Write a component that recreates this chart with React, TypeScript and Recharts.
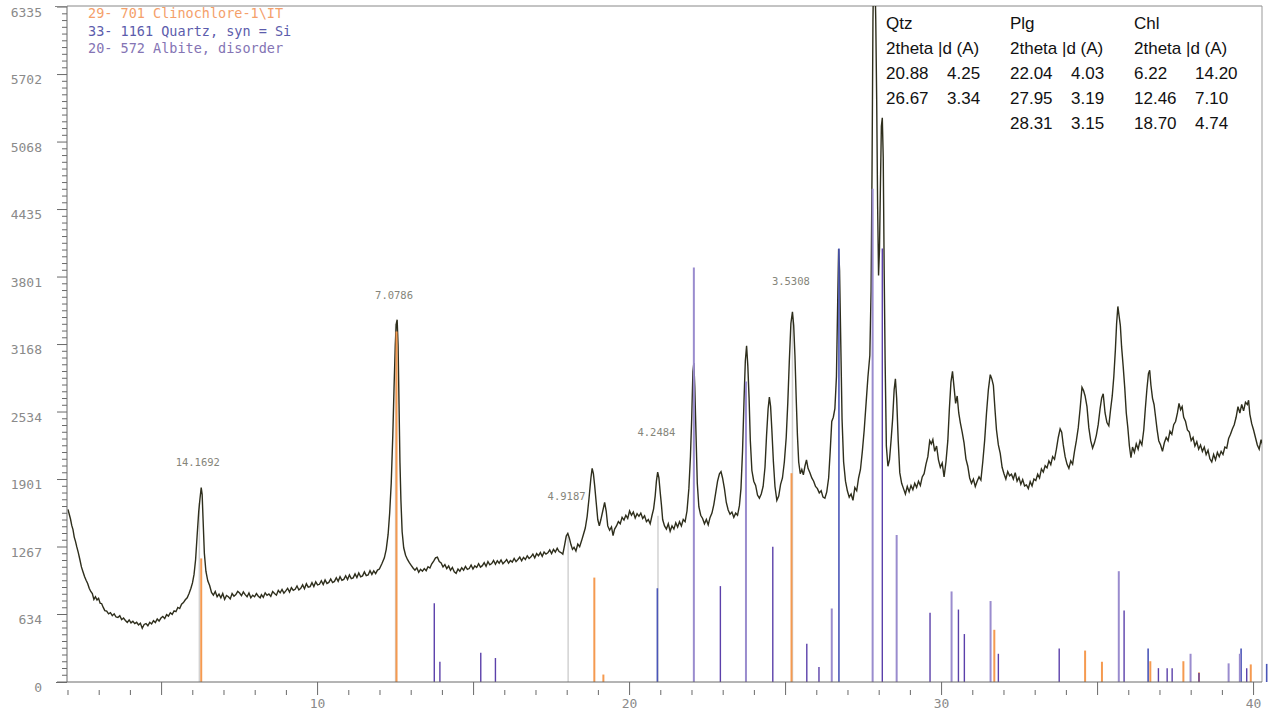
import { ComposedChart, Line, XAxis, YAxis, ReferenceLine, Scatter } from "recharts"

// measured pattern, [2theta, counts], split by range
const scanA: [number, number][] = [
  [2.0, 1620], [2.04, 1575], [2.08, 1530], [2.12, 1470], [2.16, 1430], [2.2, 1360], [2.24, 1320], [2.28, 1270],
  [2.33, 1215], [2.38, 1150], [2.43, 1080], [2.48, 1035], [2.53, 990], [2.58, 955], [2.63, 925], [2.68, 880],
  [2.73, 850], [2.78, 830], [2.83, 775], [2.88, 800], [2.93, 770], [2.98, 785], [3.03, 740], [3.08, 735],
  [3.13, 700], [3.18, 670], [3.24, 665], [3.3, 640], [3.36, 650], [3.42, 622], [3.48, 640], [3.54, 610],
  [3.6, 605], [3.66, 622], [3.72, 585], [3.78, 600], [3.84, 578], [3.9, 560], [3.96, 582], [4.02, 555],
  [4.08, 570], [4.14, 548], [4.2, 560], [4.26, 535], [4.32, 552], [4.38, 505], [4.44, 540], [4.5, 548],
  [4.56, 528], [4.62, 560], [4.68, 545], [4.74, 575], [4.8, 558], [4.86, 592], [4.92, 572], [4.98, 600],
  [5.04, 615], [5.1, 595], [5.16, 632], [5.22, 618], [5.28, 650], [5.34, 635], [5.4, 668], [5.46, 660],
  [5.52, 700], [5.58, 690], [5.64, 730], [5.7, 745], [5.76, 772], [5.82, 790], [5.88, 830], [5.94, 880],
  [5.99, 930], [6.04, 1010], [6.09, 1150], [6.14, 1380], [6.19, 1600], [6.23, 1720], [6.27, 1825], [6.3, 1760],
  [6.33, 1520], [6.37, 1210], [6.42, 1040], [6.48, 950], [6.54, 905], [6.6, 840], [6.66, 815], [6.72, 850],
  [6.78, 800], [6.84, 825], [6.9, 790], [6.96, 830], [7.02, 775], [7.08, 812], [7.14, 800], [7.2, 780],
  [7.26, 830], [7.32, 805], [7.38, 820], [7.44, 850], [7.5, 835], [7.56, 810], [7.62, 845], [7.68, 820],
  [7.74, 800], [7.8, 835], [7.86, 790], [7.92, 815], [7.98, 800], [8.04, 830], [8.1, 805], [8.16, 790],
]

const scanB: [number, number][] = [
  [8.2, 820], [8.26, 795], [8.32, 837], [8.38, 813], [8.44, 826], [8.5, 804], [8.56, 850], [8.62, 831],
  [8.68, 815], [8.74, 860], [8.8, 837], [8.86, 868], [8.92, 834], [8.98, 855], [9.04, 880], [9.1, 845],
  [9.16, 886], [9.22, 861], [9.28, 870], [9.34, 901], [9.4, 864], [9.46, 880], [9.52, 912], [9.58, 875],
  [9.64, 923], [9.7, 890], [9.76, 895], [9.82, 933], [9.88, 896], [9.94, 940], [10.0, 911], [10.06, 917],
  [10.12, 950], [10.18, 915], [10.24, 958], [10.3, 925], [10.36, 935], [10.42, 967], [10.48, 933], [10.54, 944],
  [10.6, 979], [10.66, 945], [10.72, 988], [10.78, 955], [10.84, 963], [10.9, 997], [10.96, 961], [11.02, 1005],
  [11.08, 970], [11.14, 977], [11.2, 1015], [11.26, 980], [11.32, 1023], [11.38, 987], [11.44, 996], [11.5, 1033],
  [11.56, 999], [11.62, 1005], [11.68, 1045], [11.74, 1010], [11.8, 1043], [11.86, 1017], [11.92, 1050], [11.98, 1060],
  [12.06, 1110], [12.14, 1165], [12.2, 1245], [12.26, 1385], [12.31, 1585], [12.36, 1865], [12.41, 2310], [12.45, 2760],
  [12.49, 3160], [12.52, 3360], [12.55, 3400], [12.58, 3160], [12.61, 2610], [12.64, 2060], [12.67, 1710], [12.71, 1410],
  [12.76, 1260], [12.82, 1190], [12.88, 1150], [12.94, 1120], [13.0, 1095], [13.06, 1070], [13.12, 1050], [13.18, 1072],
  [13.24, 1030], [13.3, 1058], [13.36, 1040], [13.42, 1065], [13.48, 1045], [13.54, 1082], [13.6, 1070], [13.66, 1110],
  [13.72, 1135], [13.78, 1165], [13.84, 1172], [13.9, 1130], [13.96, 1118], [14.02, 1080], [14.08, 1102], [14.14, 1065],
  [14.2, 1090], [14.26, 1048], [14.32, 1075], [14.38, 1035], [14.44, 1020], [14.5, 1060],
]

const scanC: [number, number][] = [
  [14.56, 1040], [14.62, 1072], [14.68, 1050], [14.74, 1085], [14.8, 1058], [14.86, 1065], [14.92, 1098], [14.98, 1060],
  [15.04, 1090], [15.1, 1075], [15.16, 1110], [15.22, 1078], [15.28, 1092], [15.34, 1120], [15.4, 1085], [15.46, 1130],
  [15.52, 1100], [15.58, 1112], [15.64, 1140], [15.7, 1105], [15.76, 1138], [15.82, 1115], [15.88, 1145], [15.94, 1110],
  [16.0, 1128], [16.06, 1150], [16.12, 1115], [16.18, 1140], [16.24, 1125], [16.3, 1160], [16.36, 1130], [16.42, 1150],
  [16.48, 1172], [16.54, 1138], [16.6, 1170], [16.66, 1150], [16.72, 1185], [16.78, 1160], [16.84, 1175], [16.9, 1200],
  [16.96, 1165], [17.02, 1205], [17.08, 1185], [17.14, 1215], [17.2, 1180], [17.26, 1220], [17.32, 1200], [17.38, 1212],
  [17.44, 1240], [17.5, 1205], [17.56, 1245], [17.62, 1220], [17.68, 1255], [17.74, 1225], [17.8, 1215], [17.86, 1200],
  [17.92, 1290], [17.97, 1370], [18.02, 1395], [18.07, 1350], [18.12, 1290], [18.17, 1245], [18.22, 1265], [18.28, 1230],
  [18.34, 1295], [18.4, 1270], [18.46, 1325], [18.52, 1385], [18.58, 1445], [18.64, 1555], [18.7, 1725], [18.76, 1915],
  [18.8, 2005], [18.84, 1955], [18.88, 1845], [18.93, 1685], [18.98, 1525], [19.03, 1465], [19.08, 1525], [19.14, 1605],
  [19.2, 1685], [19.25, 1605], [19.3, 1465], [19.36, 1425], [19.42, 1455], [19.47, 1375], [19.52, 1435], [19.58, 1465],
  [19.64, 1505], [19.7, 1485], [19.76, 1545], [19.82, 1520], [19.88, 1565], [19.94, 1535], [20.0, 1605], [20.06, 1565],
  [20.12, 1595], [20.18, 1540], [20.24, 1580], [20.3, 1555], [20.36, 1585], [20.42, 1535], [20.48, 1560], [20.54, 1505],
  [20.6, 1525], [20.66, 1485], [20.72, 1565], [20.77, 1625], [20.82, 1745], [20.86, 1885], [20.9, 1970], [20.94, 1915],
  [20.98, 1785], [21.02, 1665],
]

const scanD: [number, number][] = [
  [21.06, 1525], [21.12, 1465], [21.18, 1435], [21.24, 1485], [21.3, 1415], [21.36, 1465], [21.42, 1435], [21.48, 1495],
  [21.54, 1455], [21.6, 1505], [21.66, 1465], [21.72, 1525], [21.78, 1505], [21.84, 1605], [21.9, 1815], [21.95, 2115],
  [21.99, 2465], [22.03, 2915], [22.06, 2995], [22.09, 2765], [22.13, 2315], [22.17, 1865], [22.22, 1645], [22.28, 1565],
  [22.34, 1535], [22.4, 1485], [22.46, 1525], [22.52, 1475], [22.58, 1545], [22.64, 1585], [22.7, 1665], [22.76, 1775],
  [22.82, 1885], [22.88, 1955], [22.93, 1975], [22.98, 1915], [23.04, 1815], [23.1, 1685], [23.16, 1615], [23.22, 1575],
  [23.28, 1595], [23.34, 1545], [23.4, 1585], [23.46, 1565], [23.52, 1655], [23.57, 1815], [23.62, 2165], [23.67, 2665],
  [23.71, 3015], [23.75, 3155], [23.79, 2965], [23.83, 2665], [23.87, 2265], [23.92, 1985], [23.98, 1885], [24.04, 1845],
  [24.1, 1755], [24.16, 1725], [24.22, 1765], [24.28, 1835], [24.34, 2015], [24.39, 2315], [24.44, 2565], [24.48, 2675],
  [24.52, 2585], [24.56, 2365], [24.61, 2065], [24.66, 1835], [24.72, 1705], [24.78, 1745], [24.84, 1855], [24.9, 1915],
  [24.96, 2065], [25.02, 2295], [25.07, 2615], [25.12, 3015], [25.17, 3365], [25.22, 3475], [25.26, 3345], [25.3, 3065],
  [25.34, 2665], [25.38, 2315], [25.42, 2065], [25.47, 1955], [25.52, 1995], [25.57, 1945], [25.62, 2025], [25.67, 2085],
  [25.72, 2005], [25.78, 1965], [25.84, 1915], [25.9, 1885], [25.96, 1835], [26.02, 1815], [26.08, 1775], [26.14, 1795],
  [26.2, 1735], [26.26, 1725],
]

const scanE: [number, number][] = [
  [26.32, 1785], [26.38, 1915], [26.43, 2165], [26.48, 2445], [26.53, 2485], [26.58, 2565], [26.63, 2865], [26.67, 3565],
  [26.7, 4065], [26.73, 3865], [26.77, 3165], [26.81, 2465], [26.86, 2065], [26.92, 1885], [26.98, 1795], [27.04, 1735],
  [27.1, 1765], [27.16, 1705], [27.22, 1825], [27.28, 1795], [27.34, 1915], [27.4, 1995], [27.46, 2165], [27.52, 2365],
  [27.58, 2615], [27.64, 2865], [27.7, 3065], [27.74, 3665], [27.77, 4765], [27.8, 6200], [27.83, 6900], [27.86, 6700],
  [27.89, 6215], [27.92, 5465], [27.95, 4465], [27.98, 3815], [28.01, 4065], [28.04, 4665], [28.07, 5215], [28.1, 5295],
  [28.13, 4915], [28.16, 3865], [28.19, 3015], [28.23, 2215], [28.28, 2025], [28.33, 2085], [28.38, 2265], [28.43, 2465],
  [28.48, 2745], [28.52, 2845], [28.56, 2665], [28.61, 2265], [28.66, 1965], [28.72, 1865], [28.78, 1815], [28.84, 1765],
  [28.9, 1835], [28.96, 1785], [29.02, 1845], [29.08, 1805], [29.14, 1865], [29.2, 1825], [29.26, 1885], [29.32, 1845],
  [29.38, 1925], [29.44, 1955], [29.5, 2045], [29.56, 2115], [29.62, 2265], [29.67, 2235], [29.72, 2275], [29.78, 2165],
  [29.84, 2215], [29.9, 2085], [29.96, 2015], [30.02, 2055], [30.08, 1925], [30.14, 2065], [30.2, 2265], [30.25, 2565],
  [30.3, 2815], [30.35, 2915],
]

const scanF: [number, number][] = [
  [30.4, 2765], [30.45, 2615], [30.5, 2685], [30.55, 2525], [30.6, 2435], [30.66, 2345], [30.72, 2245], [30.78, 2095],
  [30.84, 2025], [30.9, 1915], [30.96, 1865], [31.02, 1905], [31.08, 1835], [31.14, 1885], [31.2, 1925], [31.26, 1895],
  [31.32, 2065], [31.38, 2265], [31.44, 2525], [31.5, 2745], [31.56, 2885], [31.61, 2845], [31.66, 2785], [31.71, 2565],
  [31.76, 2365], [31.82, 2225], [31.88, 2145], [31.94, 2015], [32.0, 1955], [32.06, 1905], [32.12, 1975], [32.18, 1935],
  [32.24, 1950], [32.3, 1905], [32.36, 1965], [32.42, 1885], [32.48, 1920], [32.54, 1855], [32.6, 1900], [32.66, 1840],
  [32.72, 1850], [32.78, 1815], [32.84, 1880], [32.9, 1840], [32.96, 1905], [33.02, 1890], [33.08, 1950], [33.14, 1915],
  [33.2, 2000], [33.26, 1970], [33.32, 2030], [33.38, 2010], [33.44, 2075], [33.5, 2040], [33.56, 2115], [33.62, 2090],
  [33.68, 2185], [33.74, 2295], [33.8, 2375], [33.85, 2345], [33.9, 2225], [33.96, 2115], [34.02, 2045], [34.08, 2005],
  [34.14, 2075], [34.2, 2045], [34.26, 2165], [34.32, 2265], [34.38, 2385], [34.44, 2565], [34.5, 2765], [34.55, 2735],
  [34.6, 2685], [34.66, 2585], [34.72, 2385], [34.78, 2265], [34.84, 2195], [34.9, 2245], [34.96, 2315], [35.02, 2415],
  [35.08, 2565], [35.13, 2665], [35.18, 2705], [35.24, 2525], [35.3, 2435], [35.36, 2405],
]

const scanG: [number, number][] = [
  [35.42, 2565], [35.47, 2685], [35.52, 2865], [35.57, 3115], [35.61, 3365], [35.65, 3525], [35.69, 3435], [35.73, 3345],
  [35.77, 3145], [35.82, 2965], [35.87, 2765], [35.92, 2525], [35.97, 2385], [36.02, 2215], [36.07, 2105], [36.12, 2205],
  [36.18, 2155], [36.24, 2235], [36.3, 2185], [36.36, 2265], [36.42, 2225], [36.48, 2365], [36.53, 2565], [36.58, 2745],
  [36.63, 2895], [36.67, 2925], [36.71, 2785], [36.76, 2665], [36.81, 2605], [36.86, 2485], [36.91, 2365], [36.96, 2265],
  [37.02, 2225], [37.08, 2165], [37.14, 2245], [37.2, 2295], [37.26, 2265], [37.32, 2355], [37.38, 2325], [37.44, 2415],
  [37.5, 2445], [37.56, 2525], [37.61, 2615], [37.66, 2555], [37.71, 2585], [37.76, 2485], [37.82, 2445], [37.88, 2365],
  [37.94, 2345], [38.0, 2265], [38.06, 2295], [38.12, 2215], [38.18, 2255], [38.24, 2185], [38.3, 2225], [38.36, 2165],
  [38.42, 2205], [38.48, 2135], [38.54, 2175], [38.6, 2095], [38.66, 2065], [38.72, 2135], [38.78, 2085], [38.84, 2155],
  [38.9, 2115], [38.96, 2165], [39.02, 2135], [39.08, 2205], [39.14, 2195], [39.2, 2285], [39.26, 2325], [39.32, 2375],
  [39.38, 2415], [39.44, 2485], [39.5, 2585], [39.56, 2525], [39.62, 2605], [39.68, 2545], [39.74, 2625], [39.8, 2605],
  [39.84, 2645], [39.88, 2515], [39.94, 2425], [40.0, 2365], [40.06, 2295], [40.12, 2225], [40.18, 2185], [40.24, 2275],
  [40.3, 2215],
]

// reference patterns, [2theta, height in counts]
const clinochloreSticks: [number, number][] = [
  [6.27, 1160], [12.53, 3290], [18.87, 980], [19.16, 70], [25.19, 1960], [31.69, 490], [34.6, 295],
  [35.14, 190], [36.69, 195], [37.75, 195], [38.25, 90], [39.91, 165],
]
const quartzSticks: [number, number][] = [
  [20.89, 880], [26.71, 4070], [36.62, 315], [39.6, 315], [40.42, 170],
]
const albiteSticks: [number, number][] = [
  [22.06, 3890], [23.73, 2820], [26.48, 690], [27.79, 4630], [28.56, 1380], [30.32, 850],
  [31.57, 760], [35.68, 1040], [37.98, 265], [39.2, 175], [39.56, 265],
]
const albiteMinorSticks: [number, number][] = [
  [13.74, 740], [13.92, 190], [15.23, 275], [15.7, 225], [22.91, 900], [24.59, 1270], [25.68, 360],
  [26.07, 140], [28.1, 4070], [29.63, 650], [30.54, 680], [30.73, 450], [31.82, 265], [33.77, 315],
  [35.85, 670], [36.95, 130], [37.23, 130], [37.39, 130], [38.25, 85], [39.78, 130],
]

// labelled peaks: position, marker height, label height, d-spacing
const peakMarks = [
  { t: 6.21, top: 1680, labelAt: 2065, d: "14.1692" },
  { t: 12.5, top: 3360, labelAt: 3632, d: "7.0786" },
  { t: 18.03, top: 1370, labelAt: 1746, d: "4.9187" },
  { t: 20.91, top: 1560, labelAt: 2346, d: "4.2484" },
  { t: 25.22, top: 3420, labelAt: 3763, d: "3.5308" },
]

const legendLines = ["29- 701 Clinochlore-1\\IT", "33- 1161 Quartz, syn = Si", "20- 572 Albite, disorder"]
const legendColors = ["#f4a06a", "#5c5cac", "#8474b4"]

const tableCols = [
  { name: "Qtz", rows: [["20.88", "4.25"], ["26.67", "3.34"]] },
  { name: "Plg", rows: [["22.04", "4.03"], ["27.95", "3.19"], ["28.31", "3.15"]] },
  { name: "Chl", rows: [["6.22", "14.20"], ["12.46", "7.10"], ["18.70", "4.74"]] },
]

const yTickLabels = [0, 634, 1267, 1901, 2534, 3168, 3801, 4435, 5068, 5702, 6335]
const xTickLabels = [10, 20, 30, 40]

const scan = [scanA, scanB, scanC, scanD, scanE, scanF, scanG].flat().map(([t, c]) => ({ t, c }))
const labelPoints = peakMarks.map((p) => ({ t: p.t - 0.05, c: p.labelAt, d: p.d }))

const X_MIN = 1.968
const X_MAX = 40.27
const Y_MAX = 6345
const YSTEP = 6335 / 100
const yTicks = Array.from({ length: 101 }, (_, i) => i * YSTEP)
const xTicks = Array.from({ length: 39 }, (_, i) => i + 2)

const mono = "'DejaVu Sans Mono', monospace"
const axisGray = "#6a6a6a"
const labelGray = "#8a8a8a"

function YTick(props: any) {
  const { x, y, payload } = props
  const i = Math.round(payload.value / YSTEP)
  const major = i % 10 === 0
  return (
    <g>
      <line x1={x - (major ? 10 : 5)} x2={x} y1={y} y2={y} stroke={axisGray} strokeWidth={1} />
      {major && (
        <text x={x - 25} y={y + 5} textAnchor="end" dominantBaseline="central" fontFamily={mono} fontSize={13} fill={labelGray}>
          {yTickLabels[i / 10]}
        </text>
      )}
    </g>
  )
}

function XTick(props: any) {
  const { x, y, payload } = props
  const v = payload.value
  const five = v % 5 === 0
  return (
    <g>
      <line x1={x} x2={x} y1={five ? y : y + 8} y2={y + 13} stroke={axisGray} strokeWidth={1} />
      {xTickLabels.includes(v) && (
        <text x={x} y={y + 21} textAnchor="middle" dominantBaseline="central" fontFamily={mono} fontSize={13} fill={labelGray}>
          {v}
        </text>
      )}
    </g>
  )
}

function PeakLabel(props: any) {
  const { cx, cy, payload } = props
  return (
    <text x={cx} y={cy} textAnchor="middle" dominantBaseline="central" fontFamily={mono} fontSize={10.5} fill="#85857a">
      {payload.d}
    </text>
  )
}

function sticks(list: [number, number][], color: string, width: number, prefix: string) {
  return list.map(([t, h], i) => (
    <ReferenceLine
      key={prefix + i}
      segment={[{ x: t, y: 0 }, { x: t, y: h }]}
      stroke={color}
      strokeWidth={width}
      ifOverflow="visible"
    />
  ))
}

export default function App() {
  return (
    <div style={{ position: "absolute", left: 0, top: 0, width: 1271, height: 709, background: "#fff" }}>
      <ComposedChart width={1271} height={709} data={scan} margin={{ top: 6, right: 9, bottom: 0, left: 0 }}>
        <XAxis
          dataKey="t"
          type="number"
          domain={[X_MIN, X_MAX]}
          allowDataOverflow
          ticks={xTicks}
          interval={0}
          tickSize={0}
          tickMargin={0}
          height={27}
          axisLine={{ stroke: axisGray }}
          tick={<XTick />}
        />
        <YAxis
          type="number"
          domain={[0, Y_MAX]}
          allowDataOverflow
          ticks={yTicks}
          interval={0}
          tickSize={0}
          tickMargin={0}
          width={67}
          axisLine={{ stroke: axisGray }}
          tick={<YTick />}
        />
        <ReferenceLine y={Y_MAX} stroke="#888" ifOverflow="visible" />
        <ReferenceLine x={X_MAX} stroke="#999" ifOverflow="visible" />
        {peakMarks.map((p, i) => (
          <ReferenceLine key={"g" + i} segment={[{ x: p.t, y: 0 }, { x: p.t, y: p.top }]} stroke="#d2d2d2" strokeWidth={1.5} />
        ))}
        <Line type="linear" dataKey="c" stroke="#2e2e1c" strokeWidth={1.4} dot={false} isAnimationActive={false} />
        {sticks(clinochloreSticks, "#f59a50", 2, "c")}
        {sticks(quartzSticks, "#4a56b8", 1.6, "q")}
        {sticks(albiteSticks, "#9a8cce", 2, "a")}
        {sticks(albiteMinorSticks, "#5b40aa", 1.4, "m")}
        <Scatter data={labelPoints} dataKey="c" shape={<PeakLabel />} isAnimationActive={false} />
      </ComposedChart>

      {/* frame stubs left of the y axis */}
      <div style={{ position: "absolute", left: 55, top: 6, width: 12, height: 1, background: "#888" }} />
      <div style={{ position: "absolute", left: 56, top: 682, width: 11, height: 1, background: axisGray }} />

      {legendLines.map((txt, i) => (
        <div
          key={txt}
          style={{
            position: "absolute",
            left: 88,
            top: 5 + i * 17.5,
            fontFamily: mono,
            fontSize: 13.5,
            lineHeight: "16px",
            whiteSpace: "pre",
            color: legendColors[i],
          }}
        >
          {txt}
        </div>
      ))}

      {tableCols.map((col, ci) => {
        const left = 886 + ci * 124
        const cell = (txt: string, x: number, row: number) => (
          <div
            key={txt + x + row}
            style={{
              position: "absolute",
              left: x,
              top: 14 + row * 25,
              fontFamily: "'Liberation Sans', Arial, sans-serif",
              fontSize: 17,
              lineHeight: "20px",
              whiteSpace: "pre",
              color: "#111",
            }}
          >
            {txt}
          </div>
        )
        return (
          <div key={col.name}>
            {cell(col.name, left, 0)}
            {cell("2theta |d (A)", left, 1)}
            {col.rows.map((r, ri) => [cell(r[0], left, ri + 2), cell(r[1], left + 61, ri + 2)])}
          </div>
        )
      })}
    </div>
  )
}
